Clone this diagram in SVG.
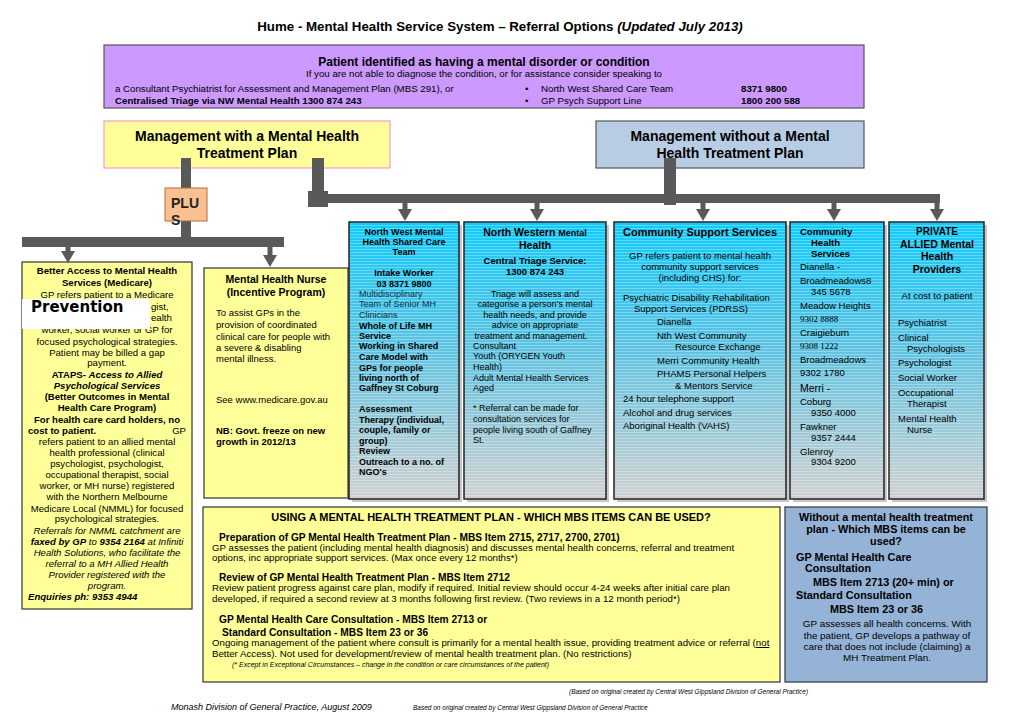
<svg xmlns="http://www.w3.org/2000/svg" width="1020" height="720" viewBox="0 0 1020 720">
<defs>
<style>
text{font-family:"Liberation Sans",Arial,sans-serif;fill:#000}
.b{font-weight:bold}
.i{font-style:italic}
.m{text-anchor:middle}
.e{text-anchor:end}
.s65{font-size:6.5px}
.s7{font-size:7px}
.s9{font-size:9px}
.s95{font-size:9.5px}
.s96{font-size:9.6px}
.s97{font-size:9.7px}
.s99{font-size:9.9px}
.s10{font-size:10px}
.s102{font-size:10.2px}
.s105{font-size:10.5px}
.s108{font-size:10.8px}
.s11{font-size:11px}
.s12{font-size:12px}
.s14{font-size:14px}
.yel{fill:#FFFF99;stroke:#333;stroke-width:1.2}
.grad{fill:url(#blueGrad);stroke:none}
.str{fill:url(#stripes);stroke:#222;stroke-width:1.5}
.shadow{fill:#c8c8c8}
.bar{fill:#595959}
.arr{stroke:#595959;stroke-width:5;fill:none;marker-end:url(#ah)}
.serif{font-family:"Liberation Serif","Times New Roman",serif}
</style>
<linearGradient id="blueGrad" x1="0" y1="0" x2="0" y2="1">
<stop offset="0" stop-color="#0ECBFA"/>
<stop offset="0.45" stop-color="#5DC3E2"/>
<stop offset="1" stop-color="#D0D0D0"/>
</linearGradient>
<pattern id="stripes" width="4" height="3" patternUnits="userSpaceOnUse">
<rect x="0" y="0" width="4" height="1" fill="#ffffff" opacity="0.3"/>
</pattern>
<marker id="ah" markerUnits="userSpaceOnUse" markerWidth="12" markerHeight="14" viewBox="0 0 12 14" refX="0" refY="7" orient="auto">
<path d="M0,0 L12,7 L0,14 z" fill="#595959"/>
</marker>
</defs>
<rect width="1020" height="720" fill="#ffffff"/>

<g id="title">
<text class="b m" style="font-size:13.3px" x="500" y="31">Hume - Mental Health Service System – Referral Options <tspan class="i">(Updated July 2013)</tspan></text>
</g>

<g id="patient">
<rect x="104" y="45" width="760" height="63" fill="#CC99FF" stroke="#555" stroke-width="1.2"/>
<text class="b s12 m" x="484" y="66">Patient identified as having a mental disorder or condition</text>
<text class="s97 m" x="484" y="77">If you are not able to diagnose the condition, or for assistance consider speaking to</text>
<text class="s97" x="115" y="92">a Consultant Psychiatrist for Assessment and Management Plan (MBS 291),  or</text>
<text class="b s97" x="115" y="104">Centralised Triage via NW Mental Health 1300 874 243</text>
<text class="s97" x="525" y="92">•</text>
<text class="s97" x="525" y="104">•</text>
<text class="s97" x="541" y="92">North West Shared Care Team</text>
<text class="s97" x="541" y="104">GP Psych Support Line</text>
<text class="b s97" x="741" y="92">8371 9800</text>
<text class="b s97" x="741" y="104">1800 200 588</text>
</g>

<g id="with-plan">
<rect x="104" y="121" width="286" height="47" fill="#FFFF99" stroke="#FF99CC" stroke-width="1.2"/>
<text class="b s14 m" x="247" y="141">Management with a Mental Health</text>
<text class="b s14 m" x="247" y="158">Treatment Plan</text>
</g>

<g id="without-plan">
<rect x="596" y="121" width="268" height="47" fill="#B8CCE4" stroke="#555" stroke-width="1.2"/>
<text class="b s14 m" x="730" y="141">Management without a Mental</text>
<text class="b s14 m" x="730" y="158">Health Treatment Plan</text>
</g>

<g id="connectors">
<rect class="bar" x="181" y="158" width="10" height="31"/>
<rect class="bar" x="181" y="220" width="10" height="24"/>
<rect class="bar" x="22" y="237" width="262" height="10"/>
<line class="arr" x1="68" y1="246" x2="68" y2="251"/>
<line class="arr" x1="270" y1="246" x2="270" y2="255"/>
<rect class="bar" x="312" y="158" width="12" height="48"/>
<rect class="bar" x="308" y="191" width="20" height="16"/>
<rect class="bar" x="318" y="194" width="622" height="9"/>
<rect class="bar" x="664" y="158" width="12" height="47"/>
<line class="arr" x1="405" y1="202" x2="405" y2="209"/>
<line class="arr" x1="537" y1="202" x2="537" y2="209"/>
<line class="arr" x1="703" y1="202" x2="703" y2="209"/>
<line class="arr" x1="834" y1="202" x2="834" y2="209"/>
<line class="arr" x1="937" y1="202" x2="937" y2="209"/>
</g>

<g id="plus">
<rect x="165" y="188" width="42" height="33" fill="#FAC090" stroke="#B0703A" stroke-width="1"/>
<text class="b s14" x="171" y="208" style="fill:#222">PLU</text>
<text class="b s14" x="171" y="225" style="fill:#222">S</text>
</g>

<g id="better-access">
<rect class="yel" x="22" y="262" width="170" height="347"/>
<text class="b s96 m" x="107" y="274">Better Access to Mental Health</text>
<text class="b s96 m" x="107" y="286">Services (Medicare)</text>
<text class="s96 m" x="107" y="298">GP refers patient to a Medicare</text>
<text class="s96" x="151" y="310">gist,</text>
<text class="s96" x="151" y="321">ealth</text>
<text class="s96 m" x="107" y="333">worker, social worker  or GP for</text>
<text class="s96 m" x="107" y="345">focused psychological strategies.</text>
<text class="s96 m" x="107" y="356">Patient may be billed a gap</text>
<text class="s96 m" x="107" y="366">payment.</text>
<text class="b s96 m" x="107" y="378">ATAPS- <tspan class="i">Access to Allied</tspan></text>
<text class="b i s96 m" x="107" y="389">Psychological Services</text>
<text class="b s96 m" x="107" y="400">(Better Outcomes in Mental</text>
<text class="b s96 m" x="107" y="411">Health Care Program)</text>
<text class="b s96 m" x="107" y="423">For health care card holders, no</text>
<text class="b s96" x="28" y="434">cost to patient.</text>
<text class="s96 e" x="186" y="434">GP</text>
<text class="s96 m" x="107" y="445">refers patient to an allied mental</text>
<text class="s96 m" x="107" y="456">health professional (clinical</text>
<text class="s96 m" x="107" y="467">psychologist, psychologist,</text>
<text class="s96 m" x="107" y="478">occupational therapist, social</text>
<text class="s96 m" x="107" y="489">worker, or MH nurse) registered</text>
<text class="s96 m" x="107" y="500">with the Northern Melbourne</text>
<text class="s96 m" x="107" y="512">Medicare Local (NMML) for focused</text>
<text class="s96 m" x="107" y="522">psychological strategies.</text>
<text class="i s96 m" x="107" y="534">Referrals for NMML catchment are</text>
<text class="i s96 m" x="107" y="545"><tspan class="b">faxed by GP</tspan> to <tspan class="b">9354 2164</tspan> at Infiniti</text>
<text class="i s96 m" x="107" y="556">Health Solutions, who facilitate the</text>
<text class="i s96 m" x="107" y="567">referral to a MH Allied Health</text>
<text class="i s96 m" x="107" y="578">Provider registered with the</text>
<text class="i s96 m" x="107" y="589">program.</text>
<text class="b i s96" x="28" y="600">Enquiries  ph: 9353 4944</text>
<rect x="22" y="299" width="128" height="30" fill="#ffffff"/>
<text x="31" y="312" style="font-family:'DejaVu Sans',Verdana,sans-serif;font-weight:bold;font-size:15px">Prevention</text>
</g>

<g id="mh-nurse">
<rect class="yel" x="204" y="268" width="144" height="230"/>
<text class="b s105 m" x="276" y="283">Mental Health Nurse</text>
<text class="b s105 m" x="276" y="296">(Incentive Program)</text>
<text class="s95" x="216" y="316">To assist GPs in the</text>
<text class="s95" x="216" y="328">provision of coordinated</text>
<text class="s95" x="216" y="340">clinical care for people with</text>
<text class="s95" x="216" y="351">a severe &amp; disabling</text>
<text class="s95" x="216" y="362">mental illness.</text>
<text class="s95" x="216" y="403">See www.medicare.gov.au</text>
<text class="b s95" x="216" y="434">NB: Govt. freeze on new</text>
<text class="b s95" x="216" y="445">growth in 2012/13</text>
</g>

<g id="nw-shared-care">
<rect class="shadow" x="352" y="225" width="110" height="277"/>
<rect class="grad" x="349" y="222" width="110" height="277"/>
<rect class="str" x="349" y="222" width="110" height="277"/>
<text class="b s9 m" x="404" y="235">North West Mental</text>
<text class="b s9 m" x="404" y="245">Health Shared Care</text>
<text class="b s9 m" x="404" y="255">Team</text>
<text class="b s9 m" x="404" y="276">Intake Worker</text>
<text class="b s9 m" x="404" y="287">03 8371 9800</text>
<text class="s9" x="359" y="297" style="fill:#1d2e44">Multidisciplinary</text>
<text class="s9" x="359" y="307" style="fill:#1d2e44">Team of Senior MH</text>
<text class="s9" x="359" y="318" style="fill:#1d2e44">Clinicians</text>
<text class="b s9" x="359" y="329">Whole of Life MH</text>
<text class="b s9" x="359" y="339">Service</text>
<text class="b s9" x="359" y="349">Working in Shared</text>
<text class="b s9" x="359" y="360">Care Model with</text>
<text class="b s9" x="359" y="371">GPs for people</text>
<text class="b s9" x="359" y="381">living north of</text>
<text class="b s9" x="359" y="391">Gaffney St Coburg</text>
<text class="b s9" x="359" y="412">Assessment</text>
<text class="b s9" x="359" y="423">Therapy (individual,</text>
<text class="b s9" x="359" y="433">couple, family or</text>
<text class="b s9" x="359" y="444">group)</text>
<text class="b s9" x="359" y="454">Review</text>
<text class="b s9" x="359" y="465">Outreach to a no. of</text>
<text class="b s9" x="359" y="475">NGO's</text>
</g>

<g id="nw-mental-health">
<rect class="shadow" x="467" y="225" width="142" height="277"/>
<rect class="grad" x="464" y="222" width="142" height="277"/>
<rect class="str" x="464" y="222" width="142" height="277"/>
<text class="b s105 m" x="535" y="236">North Western <tspan class="s9">Mental</tspan></text>
<text class="b s105 m" x="535" y="249">Health</text>
<text class="b s95 m" x="535" y="264">Central Triage Service:</text>
<text class="b s95 m" x="535" y="275">1300 874 243</text>
<text class="s9 m" x="535" y="297">Triage will assess and</text>
<text class="s9 m" x="535" y="307">categorise a person’s mental</text>
<text class="s9 m" x="535" y="318">health needs, and provide</text>
<text class="s9 m" x="535" y="328">advice on appropriate</text>
<text class="s9 m" x="531" y="339">treatment and management.</text>
<text class="s9" x="473" y="349">Consultant</text>
<text class="s9" x="473" y="359">Youth (ORYGEN Youth</text>
<text class="s9" x="473" y="370">Health)</text>
<text class="s9" x="473" y="381">Adult Mental Health Services</text>
<text class="s9" x="473" y="391">Aged</text>
<text class="s9" x="473" y="411">* Referral can be made for</text>
<text class="s9" x="473" y="422">consultation services for</text>
<text class="s9" x="473" y="433">people living south of Gaffney</text>
<text class="s9" x="473" y="443">St.</text>
</g>

<g id="community-support">
<rect class="shadow" x="617" y="225" width="172" height="277"/>
<rect class="grad" x="614" y="222" width="172" height="277"/>
<rect class="str" x="614" y="222" width="172" height="277"/>
<text class="b s11 m" x="700" y="236">Community Support Services</text>
<text class="s95 m" x="700" y="259">GP refers patient to mental health</text>
<text class="s95 m" x="700" y="270">community support services</text>
<text class="s95 m" x="700" y="281">(including CHS) for:</text>
<text class="s95" x="623" y="301">Psychiatric Disability Rehabilitation</text>
<text class="s95" x="634" y="312">Support Services (PDRSS)</text>
<text class="s95" x="657" y="325">Dianella</text>
<text class="s95" x="657" y="339">Nth West Community</text>
<text class="s95" x="675" y="350">Resource Exchange</text>
<text class="s95" x="657" y="364">Merri Community Health</text>
<text class="s95" x="657" y="377">PHAMS Personal Helpers</text>
<text class="s95" x="675" y="389">&amp; Mentors Service</text>
<text class="s95" x="623" y="402">24 hour telephone support</text>
<text class="s95" x="623" y="416">Alcohol and drug services</text>
<text class="s95" x="623" y="429">Aboriginal Health (VAHS)</text>
</g>

<g id="community-health">
<rect class="shadow" x="793" y="225" width="94" height="277"/>
<rect class="grad" x="790" y="222" width="94" height="277"/>
<rect class="str" x="790" y="222" width="94" height="277"/>
<text class="b s95" x="800" y="235">Community</text>
<text class="b s95" x="811" y="246">Health</text>
<text class="b s95" x="811" y="257">Services</text>
<text class="s95" x="800" y="270">Dianella  -</text>
<text class="s95" x="800" y="284">Broadmeadows8</text>
<text class="s95" x="811" y="295">345 5678</text>
<text class="s95" x="800" y="309">Meadow Heights</text>
<text class="s9 serif" x="800" y="322">9302 8888</text>
<text class="s95" x="800" y="336">Craigieburn</text>
<text class="s9 serif" x="800" y="349">9308 1222</text>
<text class="s95" x="800" y="363">Broadmeadows</text>
<text class="s95" x="800" y="376">9302 1780</text>
<text class="s105" x="800" y="392">Merri  -</text>
<text class="s95" x="800" y="405">Coburg</text>
<text class="s95" x="811" y="416">9350 4000</text>
<text class="s95" x="800" y="430">Fawkner</text>
<text class="s95" x="811" y="441">9357 2444</text>
<text class="s95" x="800" y="455">Glenroy</text>
<text class="s95" x="811" y="465">9304 9200</text>
</g>

<g id="private-allied">
<rect class="shadow" x="892" y="225" width="95" height="277"/>
<rect class="grad" x="889" y="222" width="95" height="277"/>
<rect class="str" x="889" y="222" width="95" height="277"/>
<text class="b s10 m" x="937" y="235">PRIVATE</text>
<text class="b s105 m" x="937" y="248">ALLIED Mental</text>
<text class="b s105 m" x="937" y="260">Health</text>
<text class="b s105 m" x="937" y="273">Providers</text>
<text class="s95 m" x="937" y="299">At cost to patient</text>
<text class="s95" x="898" y="326">Psychiatrist</text>
<text class="s95" x="898" y="341">Clinical</text>
<text class="s95" x="907" y="352">Psychologists</text>
<text class="s95" x="898" y="366">Psychologist</text>
<text class="s95" x="898" y="381">Social Worker</text>
<text class="s95" x="898" y="396">Occupational</text>
<text class="s95" x="907" y="407">Therapist</text>
<text class="s95" x="898" y="422">Mental Health</text>
<text class="s95" x="907" y="433">Nurse</text>
</g>

<g id="mbs-with-plan">
<rect class="yel" x="203" y="507" width="577" height="175"/>
<text class="b s11 m" x="491" y="521">USING A MENTAL HEALTH TREATMENT PLAN - WHICH MBS ITEMS CAN BE USED?</text>
<text class="b s102" x="219" y="541">Preparation of GP Mental Health Treatment Plan - MBS Item 2715, 2717, 2700, 2701)</text>
<text class="s97" x="212" y="551">GP assesses the patient (including mental health diagnosis) and discusses mental health concerns, referral and treatment</text>
<text class="s97" x="212" y="561">options, inc appropriate support services. (Max once every 12 months*)</text>
<text class="b s102" x="219" y="581">Review of GP Mental Health Treatment Plan - MBS Item 2712</text>
<text class="s97" x="212" y="591">Review patient progress against care plan, modify if required.  Initial review should occur 4-24 weeks after initial care plan</text>
<text class="s97" x="212" y="602">developed, if required a second review at 3 months following first review.   (Two reviews in a 12 month period*)</text>
<text class="b s102" x="219" y="623">GP Mental Health Care Consultation - MBS Item 2713 or</text>
<text class="b s102" x="222" y="636">Standard Consultation - MBS Item 23 or 36</text>
<text class="s97" x="212" y="646">Ongoing management of the patient where consult is primarily for a mental health issue, providing treatment advice or referral (<tspan text-decoration="underline">not</tspan></text>
<text class="s97" x="212" y="657">Better Access).  Not used for development/review of mental health treatment plan. (No restrictions)</text>
<text class="i s7" x="232" y="667">(* Except in Exceptional Circumstances – change in the condition or care circumstances of the patient)</text>
</g>

<g id="mbs-without-plan">
<rect x="785" y="507" width="202" height="175" fill="#95B3D7" stroke="#333" stroke-width="1.2"/>
<text class="b s108 m" x="886" y="521">Without a mental health treatment</text>
<text class="b s108 m" x="886" y="533">plan - Which MBS items can be</text>
<text class="b s108 m" x="886" y="545">used?</text>
<text class="b s108" x="796" y="561">GP Mental Health Care</text>
<text class="b s108" x="805" y="572">Consultation</text>
<text class="b s108" x="813" y="586">MBS Item 2713 (20+ min) or</text>
<text class="b s108" x="796" y="599">Standard Consultation</text>
<text class="b s108" x="830" y="613">MBS Item 23 or 36</text>
<text class="s99 m" x="887" y="627">GP assesses all health concerns. With</text>
<text class="s99 m" x="887" y="639">the patient, GP develops a pathway of</text>
<text class="s99 m" x="887" y="650">care that does not include (claiming) a</text>
<text class="s99 m" x="887" y="661">MH Treatment Plan.</text>
</g>

<g id="footer">
<text class="i s65" x="569" y="694">(Based on original created by Central West Gippsland Division of General Practice)</text>
<text class="i s9" x="171" y="710">Monash Division of General Practice, August 2009</text>
<text class="i s65" x="413" y="710">Based on original created by Central West Gippsland Division of General Practice</text>
</g>
</svg>
